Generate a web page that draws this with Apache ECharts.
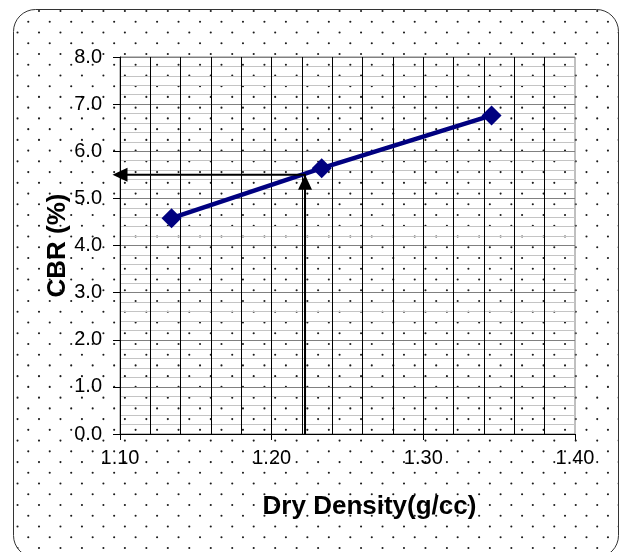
<!DOCTYPE html>
<html><head><meta charset="utf-8">
<script src="https://cdn.jsdelivr.net/npm/echarts@6/dist/echarts.min.js"></script>
<style>html,body{margin:0;padding:0;background:#fff}#c{width:627px;height:552px}</style>
</head><body><div id="c"></div>
<script>
// ---- data ----
const densityValues = [1.134, 1.233, 1.345];
const cbrValues = [4.58, 5.64, 6.76];
const xTickLabels = ['1.10', '1.20', '1.30', '1.40'];
const yTickLabels = ['0.0', '1.0', '2.0', '3.0', '4.0', '5.0', '6.0', '7.0', '8.0'];
const readDensity = 1.222;
const readCBR = 5.5;
const xTitle = 'Dry Density(g/cc)';
const yTitle = 'CBR (%)';

const FONT = "'Liberation Sans', Arial, sans-serif";

function makeDots() {
  const c = document.createElement('canvas');
  c.width = 627; c.height = 552;
  const g = c.getContext('2d');
  g.fillStyle = '#fff'; g.fillRect(0, 0, 627, 552);
  g.fillStyle = '#1a1a1a';
  for (let r = -1; r < 54; r++) {
    const y = 11 + 10.74 * r;
    const off = (r % 2 !== 0) ? -10.735 : 0;
    for (let k = -1; k < 31; k++) {
      const x = 39 + off + 21.47 * k;
      g.beginPath(); g.arc(x, y, 1.05, 0, Math.PI * 2); g.fill();
    }
  }
  return c;
}

const xMin = parseFloat(xTickLabels[0]), xMax = parseFloat(xTickLabels[xTickLabels.length - 1]);
const yMin = parseFloat(yTickLabels[0]), yMax = parseFloat(yTickLabels[yTickLabels.length - 1]);

const chart = echarts.init(document.getElementById('c'), null, { renderer: 'canvas' });
chart.setOption({
  backgroundColor: '#fff',
  animation: false,
  graphic: [{
    type: 'rect', z: -10, silent: true,
    shape: { x: 13.5, y: 9.5, width: 605, height: 548, r: 22 },
    style: { fill: { image: makeDots(), repeat: 'no-repeat' }, stroke: '#333', lineWidth: 1 }
  }],
  grid: {
    left: 120, right: 52, top: 57, bottom: 118,
    show: true, borderColor: '#808080', borderWidth: 1, backgroundColor: 'transparent',
    outerBoundsMode: 'none', containLabel: false
  },
  xAxis: {
    type: 'value', min: xMin, max: xMax, interval: 0.1,
    name: xTitle, nameLocation: 'middle', nameGap: 60, nameMoveOverlap: false,
    nameTextStyle: { fontFamily: FONT, fontSize: 26, fontWeight: 'bold', color: '#000', padding: [0, 0, 0, 44] },
    axisLine: { show: true, onZero: false, lineStyle: { color: '#000', width: 1 } },
    axisTick: { show: true, inside: false, length: 6, lineStyle: { color: '#000' } },
    axisLabel: { fontFamily: FONT, fontSize: 20, color: '#000', margin: 14,
      formatter: v => xTickLabels.find(t => Math.abs(parseFloat(t) - v) < 1e-6) || v.toFixed(2) },
    splitLine: { show: true, showMaxLine: false, lineStyle: { color: '#000', width: 1 } },
    minorTick: { show: false, splitNumber: 5 },
    minorSplitLine: { show: true, lineStyle: { color: '#000', width: 1 } }
  },
  yAxis: {
    type: 'value', min: yMin, max: yMax, interval: 1,
    name: yTitle, nameLocation: 'middle', nameGap: 49, nameRotate: 90, nameMoveOverlap: false,
    nameTextStyle: { fontFamily: FONT, fontSize: 26, fontWeight: 'bold', color: '#000' },
    axisLine: { show: true, onZero: false, lineStyle: { color: '#000', width: 1 } },
    axisTick: { show: true, inside: false, length: 7, lineStyle: { color: '#000' } },
    axisLabel: { fontFamily: FONT, fontSize: 20, color: '#000', margin: 18, padding: [4, 0, 0, 0],
      formatter: v => yTickLabels.find(t => Math.abs(parseFloat(t) - v) < 1e-6) || v.toFixed(1) },
    splitLine: { show: true, lineStyle: { color: '#808080', width: 1 } },
    minorTick: { show: false, splitNumber: 5 },
    minorSplitLine: { show: true, lineStyle: { color: '#c4c4c4', width: 1 } }
  },
  series: [
    {
      type: 'line',
      data: densityValues.map((d, i) => [d, cbrValues[i]]),
      symbol: 'diamond', symbolSize: 20,
      lineStyle: { color: '#000080', width: 4.5 },
      itemStyle: { color: '#000080' },
      z: 3
    },
    {
      type: 'line', clip: false, z: 4,
      lineStyle: { color: '#000', width: 2 },
      itemStyle: { color: '#000' },
      symbol: 'none',
      data: [
        { value: [readDensity, yMin], symbol: 'none' },
        { value: [readDensity, readCBR], symbol: 'triangle', symbolSize: [14, 15], symbolOffset: [0, '50%'] },
        { value: [xMin, readCBR], symbol: 'triangle', symbolSize: [14, 15], symbolRotate: 90 }
      ]
    }
  ]
});
</script>
</body></html>
